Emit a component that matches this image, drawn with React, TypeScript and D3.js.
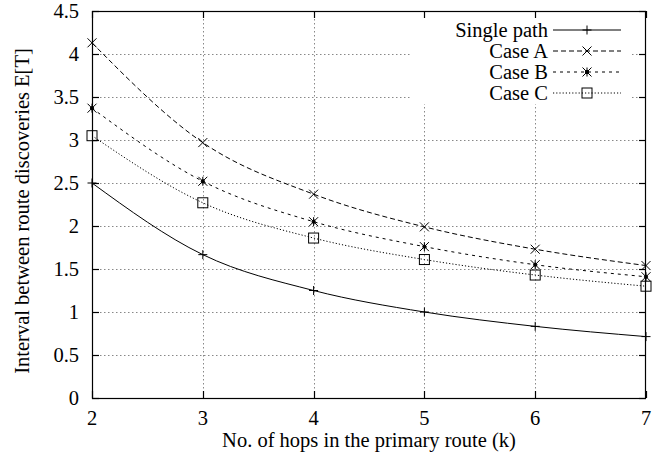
import React from "react";
import * as d3 from "d3";

// Hop counts on the x axis
const hops = [2, 3, 4, 5, 6, 7];

// Mean interval between route discoveries for each scheme
const singlePath = [2.5, 1.667, 1.25, 1.0, 0.833, 0.714];
const caseA = [4.13, 2.97, 2.37, 1.99, 1.73, 1.54];
const caseB = [3.37, 2.52, 2.05, 1.76, 1.55, 1.41];
const caseC = [3.05, 2.27, 1.86, 1.61, 1.43, 1.3];

const xTicks = [2, 3, 4, 5, 6, 7];
const yTicks = [0, 0.5, 1, 1.5, 2, 2.5, 3, 3.5, 4, 4.5];

type Marker = "plus" | "cross" | "star" | "square";

const seriesList: { name: string; values: number[]; dash: string; marker: Marker }[] = [
  { name: "Single path", values: singlePath, dash: "none", marker: "plus" },
  { name: "Case A", values: caseA, dash: "5,3", marker: "cross" },
  { name: "Case B", values: caseB, dash: "3,4", marker: "star" },
  { name: "Case C", values: caseC, dash: "1.2,2", marker: "square" },
];

const W = 661;
const H = 456;
const left = 92;
const right = 646;
const top = 11;
const bottom = 398;
const FONT = "'Liberation Serif', 'Times New Roman', serif";
const FS = 20.5;

function MarkerGlyph({ kind, x, y }: { kind: Marker; x: number; y: number }) {
  const s = 4.5;
  const st = { stroke: "#000", strokeWidth: 1, fill: "none" } as const;
  if (kind === "plus")
    return (
      <g {...st}>
        <line x1={x - s} y1={y} x2={x + s} y2={y} />
        <line x1={x} y1={y - s} x2={x} y2={y + s} />
      </g>
    );
  if (kind === "cross")
    return (
      <g {...st}>
        <line x1={x - s} y1={y - s} x2={x + s} y2={y + s} />
        <line x1={x - s} y1={y + s} x2={x + s} y2={y - s} />
      </g>
    );
  if (kind === "star")
    return (
      <g {...st}>
        <line x1={x - s} y1={y - s} x2={x + s} y2={y + s} />
        <line x1={x - s} y1={y + s} x2={x + s} y2={y - s} />
        <line x1={x} y1={y - s} x2={x} y2={y + s} />
        <circle cx={x} cy={y} r={1.6} fill="#000" />
      </g>
    );
  return <rect x={x - 5} y={y - 5} width={10} height={10} {...st} />;
}

export default function App() {
  const x = d3.scaleLinear().domain([2, 7]).range([left, right]);
  const y = d3.scaleLinear().domain([0, 4.5]).range([bottom, top]);
  const line = d3
    .line<number>()
    .x((_, i) => x(hops[i]))
    .y((v) => y(v))
    .curve(d3.curveMonotoneX);

  const legendX = 553;
  const legendX2 = 621;
  const legendRows = [30, 51, 72, 93];

  return (
    <svg width={W} height={H} style={{ position: "absolute", left: 0, top: 0, background: "#fff" }}>
      <rect x={0} y={0} width={W} height={H} fill="#fff" />
      {/* grid */}
      <g stroke="#888" strokeWidth={1} strokeDasharray="1.5,2.5">
        {yTicks.slice(1, -1).map((t) => (
          <line key={"gy" + t} x1={left} x2={right} y1={Math.round(y(t)) + 0.5} y2={Math.round(y(t)) + 0.5} />
        ))}
        {xTicks.slice(1, -1).map((t) => (
          <line key={"gx" + t} x1={Math.round(x(t)) + 0.5} x2={Math.round(x(t)) + 0.5} y1={top} y2={bottom} />
        ))}
      </g>
      {/* legend background hides the grid underneath */}
      <rect x={410} y={top + 1} width={222} height={92} fill="#fff" />
      {/* frame and ticks */}
      <rect x={left + 0.5} y={top + 0.5} width={right - left - 1} height={bottom - top} fill="none" stroke="#000" strokeWidth={1.2} />
      <g stroke="#000" strokeWidth={1.2}>
        {yTicks.map((t) => (
          <g key={"ty" + t}>
            <line x1={left} x2={left + 7} y1={Math.round(y(t)) + 0.5} y2={Math.round(y(t)) + 0.5} />
            <line x1={right - 7} x2={right} y1={Math.round(y(t)) + 0.5} y2={Math.round(y(t)) + 0.5} />
          </g>
        ))}
        {xTicks.map((t) => (
          <g key={"tx" + t}>
            <line x1={Math.round(x(t)) + 0.5} x2={Math.round(x(t)) + 0.5} y1={bottom} y2={bottom - 7} />
            <line x1={Math.round(x(t)) + 0.5} x2={Math.round(x(t)) + 0.5} y1={top} y2={top + 7} />
          </g>
        ))}
      </g>
      {/* tick labels */}
      <g fontFamily={FONT} fontSize={FS} fill="#000">
        {yTicks.map((t) => (
          <text key={"ly" + t} x={left - 13} y={y(t)} dy="0.33em" textAnchor="end">
            {String(t)}
          </text>
        ))}
        {xTicks.map((t) => (
          <text key={"lx" + t} x={x(t)} y={bottom + 27} textAnchor="middle">
            {String(t)}
          </text>
        ))}
        <text x={(left + right) / 2} y={447} textAnchor="middle">
          No. of hops in the primary route (k)
        </text>
        <text transform={`translate(29, 211) rotate(-90)`} textAnchor="middle">
          Interval between route discoveries E[T]
        </text>
      </g>
      {/* data */}
      {seriesList.map((s) => (
        <g key={s.name}>
          <path d={line(s.values) || ""} fill="none" stroke="#000" strokeWidth={1} strokeDasharray={s.dash} />
          {s.values.map((v, i) => (
            <MarkerGlyph key={i} kind={s.marker} x={x(hops[i])} y={y(v)} />
          ))}
        </g>
      ))}
      {/* legend */}
      <g fontFamily={FONT} fontSize={FS} fill="#000">
        {seriesList.map((s, i) => (
          <g key={"lg" + s.name}>
            <text x={legendX - 5} y={legendRows[i]} dy="0.33em" textAnchor="end">
              {s.name}
            </text>
            <line x1={legendX} x2={legendX2} y1={legendRows[i]} y2={legendRows[i]} stroke="#000" strokeWidth={1} strokeDasharray={s.dash} />
            <MarkerGlyph kind={s.marker} x={(legendX + legendX2) / 2} y={legendRows[i]} />
          </g>
        ))}
      </g>
    </svg>
  );
}
